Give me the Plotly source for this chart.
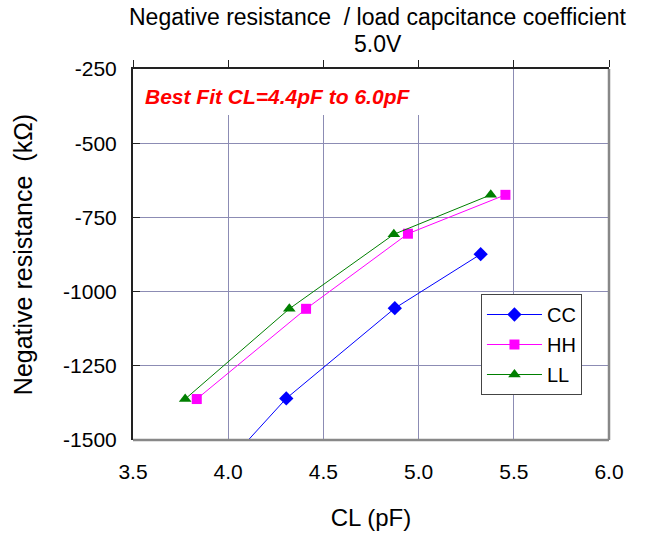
import plotly.graph_objects as go

# CL (pF) / negative resistance (kOhm)
cc_x = [3.75, 4.305, 4.875, 5.326]
cc_y = [-1750, -1360, -1056, -874]
hh_x = [3.835, 4.409, 4.944, 5.456]
hh_y = [-1362, -1058, -805, -674]
ll_x = [3.774, 4.321, 4.870, 5.379]
ll_y = [-1362, -1058, -807, -674]

x_ticks = [3.5, 4.0, 4.5, 5.0, 5.5, 6.0]
y_ticks = [-1500, -1250, -1000, -750, -500, -250]

font = "Liberation Sans, Arial, sans-serif"
grid = "#8c8cb4"

fig = go.Figure()
fig.add_trace(go.Scatter(x=cc_x, y=cc_y, name="CC", mode="lines+markers", legendgroup="a",
                         line=dict(color="#0000ff", width=1),
                         marker=dict(symbol="diamond", size=11, color="#0000ff")))
fig.add_trace(go.Scatter(x=hh_x, y=hh_y, name="HH", mode="lines+markers", legendgroup="b",
                         line=dict(color="#ff00ff", width=1),
                         marker=dict(symbol="square", size=10, color="#ff00ff")))
fig.add_trace(go.Scatter(x=ll_x, y=ll_y, name="LL", mode="lines+markers", legendgroup="c",
                         line=dict(color="#007f00", width=1),
                         marker=dict(symbol="triangle-up", size=11, color="#007f00")))
# dummy trace to drive the top axis
fig.add_trace(go.Scatter(x=[3.5], y=[-250], xaxis="x2", mode="markers",
                         marker=dict(opacity=0), showlegend=False, hoverinfo="skip"))

fig.update_layout(
    width=658, height=536,
    margin=dict(l=133, r=49, t=69, b=96),
    paper_bgcolor="white", plot_bgcolor="white",
    font=dict(family=font, size=21, color="black"),
    xaxis=dict(range=[3.5, 6.0], tickvals=x_ticks, ticktext=[f"{v:.1f}" for v in x_ticks],
               showgrid=True, gridcolor=grid, gridwidth=1, zeroline=False, automargin=False,
               showline=False, ticks="", ticklabelstandoff=17,
               title=dict(text="CL (pF)", standoff=27, font=dict(size=24))),
    xaxis2=dict(range=[3.5, 6.0], overlaying="x", side="top", tickvals=x_ticks, automargin=False,
                showticklabels=False, showgrid=False, zeroline=False,
                showline=True, linecolor="#222", linewidth=2,
                ticks="outside", ticklen=7, tickcolor="#222", tickwidth=1),
    yaxis=dict(range=[-1500, -250], tickvals=y_ticks, ticktext=[str(v) for v in y_ticks],
               showgrid=True, gridcolor=grid, gridwidth=1, zeroline=False, automargin=False,
               showline=True, linecolor="#222", linewidth=2,
               ticks="inside", ticklen=7, tickcolor="#222", ticklabelstandoff=10,
               title=dict(text="Negative resistance  (kΩ)", standoff=23, font=dict(size=25))),
    legend=dict(x=0.731, y=0.3935, xanchor="left", yanchor="top",
                bgcolor="white", bordercolor="#444", borderwidth=1,
                font=dict(size=20), tracegroupgap=1, itemwidth=55),
    showlegend=True,
)

# white patch behind the label, gray frame on bottom/right
fig.add_shape(type="rect", xref="x", yref="y", x0=3.5, x1=5.1, y0=-405, y1=-250,
              fillcolor="white", line=dict(width=0), layer="between")
fig.add_shape(type="line", xref="paper", yref="paper", x0=0, x1=1, y0=0, y1=0,
              line=dict(color="#888", width=2.5))
fig.add_shape(type="line", xref="paper", yref="paper", x0=1, x1=1, y0=0, y1=1,
              line=dict(color="#888", width=2.5))

fig.add_annotation(text="<b><i>Best Fit CL=4.4pF to 6.0pF</i></b>", xref="paper", yref="paper",
                   x=0.02, y=0.925, xanchor="left", yanchor="middle", showarrow=False,
                   font=dict(size=21, color="#ff0000"))
fig.add_annotation(text="Negative resistance  / load capcitance coefficient", xref="paper", yref="paper",
                   x=0.515, y=1, yshift=52, xanchor="center", yanchor="middle", showarrow=False,
                   font=dict(size=23))
fig.add_annotation(text="5.0V", xref="paper", yref="paper",
                   x=0.515, y=1, yshift=25, xanchor="center", yanchor="middle", showarrow=False,
                   font=dict(size=23))

# drop the default 8px body margin so the figure sits at the page corner
fig.write_html("out.html", config={"displayModeBar": False},
               post_script="document.body.style.margin='0';")
